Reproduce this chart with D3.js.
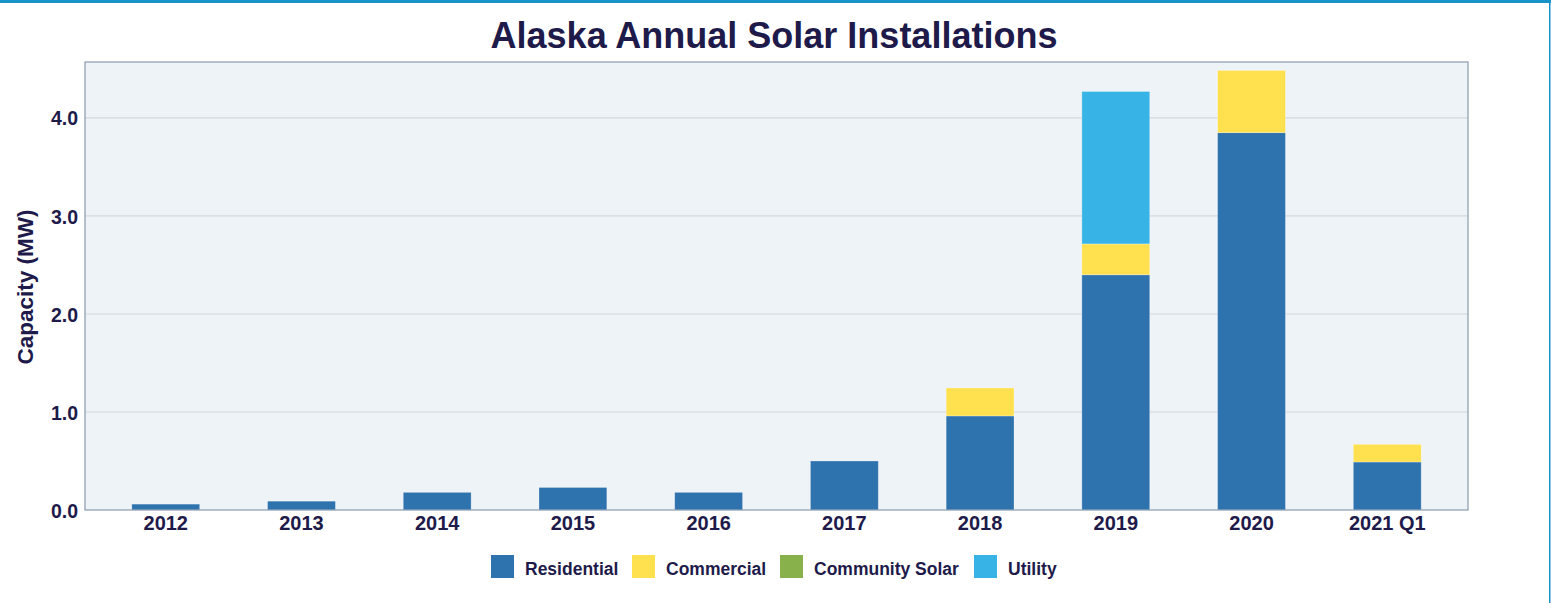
<!DOCTYPE html>
<html>
<head>
<meta charset="utf-8">
<script src="https://cdn.jsdelivr.net/npm/d3@7"></script>
<style>
  body { margin: 0; background: #fff; }
  svg text { font-family: "Liberation Sans", Arial, sans-serif; font-weight: bold; fill: #1e1a4a; }
</style>
</head>
<body>
<div id="container"></div>
<script>
// chart data
const years = ["2012", "2013", "2014", "2015", "2016", "2017", "2018", "2019", "2020", "2021 Q1"];
const residential = [0.06, 0.09, 0.18, 0.23, 0.18, 0.50, 0.96, 2.40, 3.85, 0.49];
const commercial = [0, 0, 0, 0, 0, 0, 0.285, 0.315, 0.635, 0.18];
const communitySolar = [0, 0, 0, 0, 0, 0, 0, 0, 0, 0];
const utility = [0, 0, 0, 0, 0, 0, 0, 1.555, 0, 0];
const seriesNames = ["Residential", "Commercial", "Community Solar", "Utility"];
const yTicks = [0, 1, 2, 3, 4];

const width = 1551, height = 603;
const margin = { left: 85, right: 83, top: 62, bottom: 93 };
const colors = d3.scaleOrdinal(seriesNames, ["#2e72ae", "#ffe04f", "#88b04b", "#38b3e6"]);

const svg = d3.select("#container")
    .append("svg")
    .attr("width", width)
    .attr("height", height);

// frame lines round the page
svg.append("rect").attr("x", 0).attr("y", 0).attr("width", width).attr("height", 3).attr("fill", "#1793ca");
svg.append("rect").attr("x", width - 2).attr("y", 0).attr("width", 1.5).attr("height", height).attr("fill", "#1793ca");

// build stacked table
const table = years.map((y, i) => ({
    year: y,
    "Residential": residential[i],
    "Commercial": commercial[i],
    "Community Solar": communitySolar[i],
    "Utility": utility[i]
}));
const stacked = d3.stack().keys(seriesNames)(table);

const x = d3.scaleBand()
    .domain(years)
    .range([margin.left, width - margin.right])
    .paddingInner(0.5)
    .paddingOuter(0.345);

const y = d3.scaleLinear()
    .domain([0, 4.571])
    .range([height - margin.bottom, margin.top]);

// plot background
svg.append("rect")
    .attr("x", margin.left)
    .attr("y", margin.top)
    .attr("width", width - margin.left - margin.right)
    .attr("height", height - margin.top - margin.bottom)
    .attr("fill", "#eef3f7");

// gridlines
svg.append("g")
    .selectAll("line")
    .data(yTicks.slice(1))
    .enter()
    .append("line")
    .attr("x1", margin.left)
    .attr("x2", width - margin.right)
    .attr("y1", d => y(d))
    .attr("y2", d => y(d))
    .attr("stroke", "#d3d8de")
    .attr("stroke-width", 1.2);

// bars
svg.append("g")
    .selectAll("g")
    .data(stacked)
    .enter()
    .append("g")
    .attr("fill", d => colors(d.key))
    .selectAll("rect")
    .data(d => d.filter(s => s[1] - s[0] > 0))
    .enter()
    .append("rect")
    .attr("x", d => x(d.data.year))
    .attr("width", x.bandwidth())
    .attr("y", d => y(d[1]))
    .attr("height", d => y(d[0]) - y(d[1]))
    .attr("stroke", "rgba(255,255,255,0.35)")
    .attr("stroke-width", 0.8);

// plot border
svg.append("rect")
    .attr("x", margin.left)
    .attr("y", margin.top)
    .attr("width", width - margin.left - margin.right)
    .attr("height", height - margin.top - margin.bottom)
    .attr("fill", "none")
    .attr("stroke", "#8a9bb0")
    .attr("stroke-width", 1.2);

// y axis
const yAxis = svg.append("g")
    .attr("transform", `translate(${margin.left},0)`)
    .call(d3.axisLeft(y).tickValues(yTicks).tickFormat(d3.format(".1f")).tickSize(0).tickPadding(7));
yAxis.select(".domain").remove();
yAxis.selectAll("text").attr("font-size", 19.5).attr("dy", "0.36em").style("font-family", null);

// x axis
const xAxis = svg.append("g")
    .attr("transform", `translate(0,${height - margin.bottom})`)
    .call(d3.axisBottom(x).tickSize(0).tickPadding(6));
xAxis.select(".domain").remove();
xAxis.selectAll("text").attr("font-size", 20).style("font-family", null);

// title
svg.append("text")
    .attr("x", 774)
    .attr("y", 48)
    .attr("text-anchor", "middle")
    .attr("font-size", 36)
    .text("Alaska Annual Solar Installations");

// y label
svg.append("text")
    .attr("transform", "translate(33,287) rotate(-90)")
    .attr("text-anchor", "middle")
    .attr("font-size", 22.5)
    .text("Capacity (MW)");

// legend
const legendX = [491, 632, 780, 974];
const legend = svg.append("g")
    .selectAll("g")
    .data(seriesNames)
    .enter()
    .append("g")
    .attr("transform", (d, i) => `translate(${legendX[i]},555)`);
legend.append("rect")
    .attr("width", 23)
    .attr("height", 23)
    .attr("fill", d => colors(d));
legend.append("text")
    .attr("x", 34)
    .attr("y", 20)
    .attr("font-size", 17.5)
    .text(d => d);
</script>
</body>
</html>
